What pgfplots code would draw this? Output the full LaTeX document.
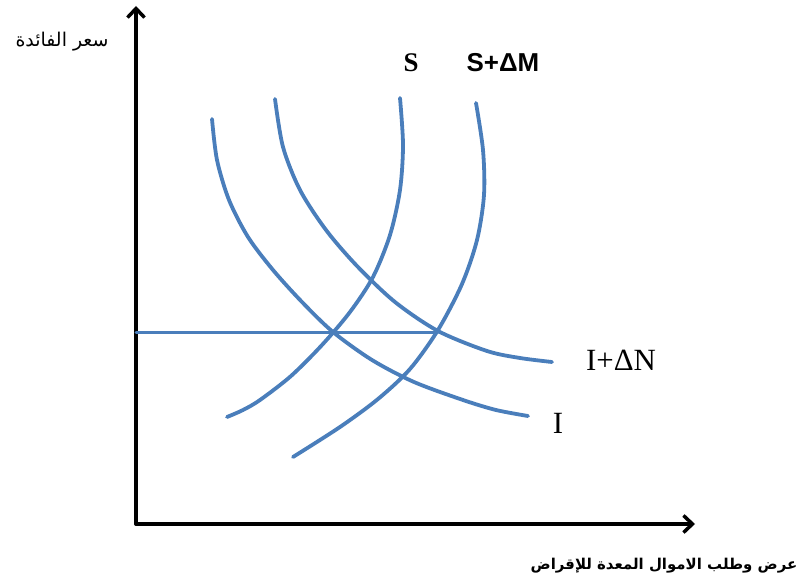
\documentclass[border=0pt]{standalone}
\usepackage{fontspec}
\usepackage{pgfplots}
\pgfplotsset{compat=1.18}
\usetikzlibrary{arrows.meta}
\setmainfont{Liberation Serif}
\newfontfamily\sansfont{Liberation Sans}
\newfontfamily\arabicfont[Script=Arabic]{DejaVu Sans}
\TeXXeTstate=1
\definecolor{curveblue}{RGB}{74,126,187}

\begin{document}
\begin{tikzpicture}
\begin{axis}[
  x=1bp, y=1bp, y dir=reverse,
  xmin=0, xmax=801, ymin=0, ymax=584,
  hide axis, clip=false,
  every axis plot/.append style={line cap=round, line join=round},
]
% page frame
\path (axis cs:0,0) rectangle (axis cs:801,584);

% axes
\addplot[black, line width=3.5bp, -{Straight Barb[length=9bp,width=17bp,line width=3.5bp]}]
  coordinates {(136,524) (136,6)};
\addplot[black, line width=3.5bp, -{Straight Barb[length=9bp,width=17bp,line width=3.5bp]}]
  coordinates {(136,524) (695,524)};

% common interest rate
\addplot[curveblue, line width=3bp] coordinates {(136,332) (438,332)};

% investment curves
\addplot[curveblue, line width=3.8bp, smooth] coordinates {
  (212,119) (217,160) (229,200) (248,237) (273,270) (302,302) (333,332)
  (372,360) (414,382) (463,400) (496,410) (528,416)};
\addplot[curveblue, line width=3.8bp, smooth] coordinates {
  (275,99) (283,147) (300,190) (326,230) (357,266) (395,302) (438,331)
  (487,351) (520,358) (552,362)};

% savings curves
\addplot[curveblue, line width=3.8bp, smooth] coordinates {
  (400,98) (403,145) (400,190) (390,235) (373,277) (350,312) (322,345)
  (291,376) (260,400) (243,410) (227,417)};
\addplot[curveblue, line width=3.8bp, smooth] coordinates {
  (476,103) (483,150) (484,195) (477,240) (462,284) (438,330) (410,369)
  (378,399) (340,427) (293,457)};

% curve labels
\node at (axis cs:411,63) {\fontsize{27}{30}\selectfont\bfseries S};
\node at (axis cs:503,63) {\fontsize{26}{30}\selectfont\sansfont\bfseries S+ΔM};
\node at (axis cs:621,360) {\fontsize{31}{34}\selectfont I+ΔN};
\node at (axis cs:558,423) {\fontsize{31}{34}\selectfont I};

% axis titles
\node at (axis cs:62,42) {\fontsize{19}{22}\selectfont\arabicfont\beginR سعر الفائدة\endR};
\node at (axis cs:664,566) {\fontsize{15}{18}\selectfont\arabicfont\bfseries\beginR عرض وطلب الاموال المعدة للإقراض\endR};
\end{axis}
\end{tikzpicture}
\end{document}
